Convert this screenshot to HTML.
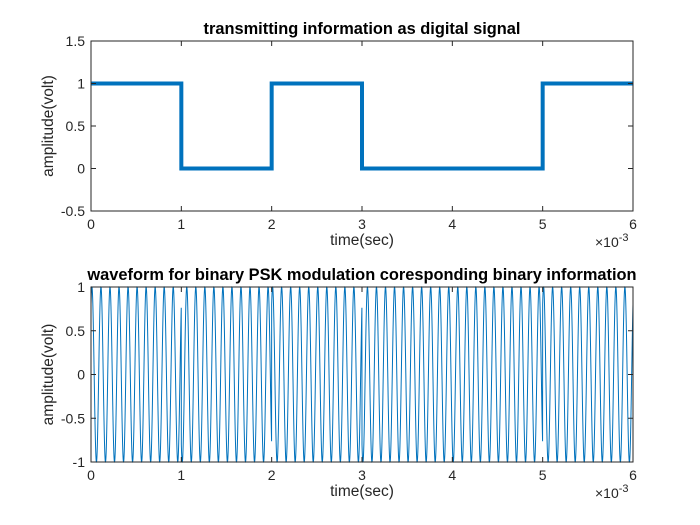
<!DOCTYPE html>
<html><head><meta charset="utf-8"><style>
body{margin:0;background:#fff;}
svg{display:block;font-family:"Liberation Sans",Arial,sans-serif;}
</style></head><body>
<svg id="c" width="700" height="525">
<rect width="700" height="525" fill="#fff"/>
</svg>
<script>
const bits=[1,0,1,0,0,1];
const xTicks=[0,1,2,3,4,5,6];
const yTicksTop=[-0.5,0,0.5,1,1.5];
const yTicksBot=[-1,-0.5,0,0.5,1];
const carrierFreq=10000;
const carrierPhase=0.93;
const NS="http://www.w3.org/2000/svg";
const svg=document.getElementById('c');
function mk(tag,attrs,parent){const e=document.createElementNS(NS,tag);for(const k in attrs)e.setAttribute(k,attrs[k]);(parent||svg).appendChild(e);return e;}
function axes(top,bottom,ymin,ymax,yTicks,title,name){
  const L=91,R=633;
  const sx=v=>L+(v-0)/(6e-3)*(R-L);
  const sy=v=>bottom-(v-ymin)/(ymax-ymin)*(bottom-top);
  const g=mk('g',{});
  
  
  mk('rect',{x:L,y:top,width:R-L,height:bottom-top,fill:'#fff'},g);
  return {g,sx,sy,L,R,top,bottom,finish:function(){
    const fr=mk('rect',{x:L,y:top,width:R-L,height:bottom-top,fill:'none',stroke:'#262626','stroke-width':1},g);
    
    xTicks.forEach(t=>{const x=sx(t*1e-3);
      mk('line',{x1:x,x2:x,y1:bottom,y2:bottom-5,stroke:'#262626'},g);
      mk('line',{x1:x,x2:x,y1:top,y2:top+5,stroke:'#262626'},g);
      const tx=mk('text',{x:x,y:bottom+18,'text-anchor':'middle','font-size':14,fill:'#262626'},g);tx.textContent=t;
      });
    yTicks.forEach(t=>{const y=sy(t);
      mk('line',{x1:L,x2:L+5,y1:y,y2:y,stroke:'#262626'},g);
      mk('line',{x1:R,x2:R-5,y1:y,y2:y,stroke:'#262626'},g);
      const tx=mk('text',{x:L-6,y:y+5,'text-anchor':'end','font-size':14,fill:'#262626'},g);tx.textContent=t;
      });
    const tt=mk('text',{x:(L+R)/2,y:top-7,'text-anchor':'middle','font-size':16.4,'font-weight':'bold',fill:'#000'},g);tt.textContent=title;
    
    const xl=mk('text',{x:(L+R)/2,y:bottom+34,'text-anchor':'middle','font-size':15.5,fill:'#262626'},g);xl.textContent='time(sec)';
    
    const yl=mk('text',{x:0,y:0,'text-anchor':'middle','font-size':15.5,fill:'#262626',transform:`translate(${L-38},${(top+bottom)/2}) rotate(-90)`},g);yl.textContent='amplitude(volt)';
    
    const ex=mk('text',{x:R-38,y:bottom+36,'font-size':14,fill:'#262626'},g);
    ex.innerHTML='×10<tspan dy="-6" font-size="11">-3</tspan>';
    
  }};
}
const a1=axes(41,211,-0.5,1.5,yTicksTop,'transmitting information as digital signal','digital-signal-axes');
let d='';
bits.forEach((b,i)=>{const x0=a1.sx(i*1e-3),x1=a1.sx((i+1)*1e-3),y=a1.sy(b);
  d+=(i===0?'M':'L')+x0+','+y+' L'+x1+','+y+' ';});
const p1=mk('path',{d:d,fill:'none',stroke:'#0072BD','stroke-width':4,'stroke-linejoin':'miter'},a1.g);


a1.finish();
const a2=axes(287,462,-1,1,yTicksBot,'waveform for binary PSK modulation coresponding binary information','psk-waveform-axes');
let d2='';const N=6000;
for(let k=0;k<=N;k++){const t=k/N*6e-3;const bi=Math.min(bits.length-1,Math.floor(t/1e-3));
  const s=Math.sin(2*Math.PI*carrierFreq*t+carrierPhase)*(bits[bi]?1:-1);
  d2+=(k?'L':'M')+a2.sx(t).toFixed(2)+','+a2.sy(s).toFixed(2);}
const p2=mk('path',{d:d2,fill:'none',stroke:'#0072BD','stroke-width':1},a2.g);


a2.finish();
</script>
</body></html>
